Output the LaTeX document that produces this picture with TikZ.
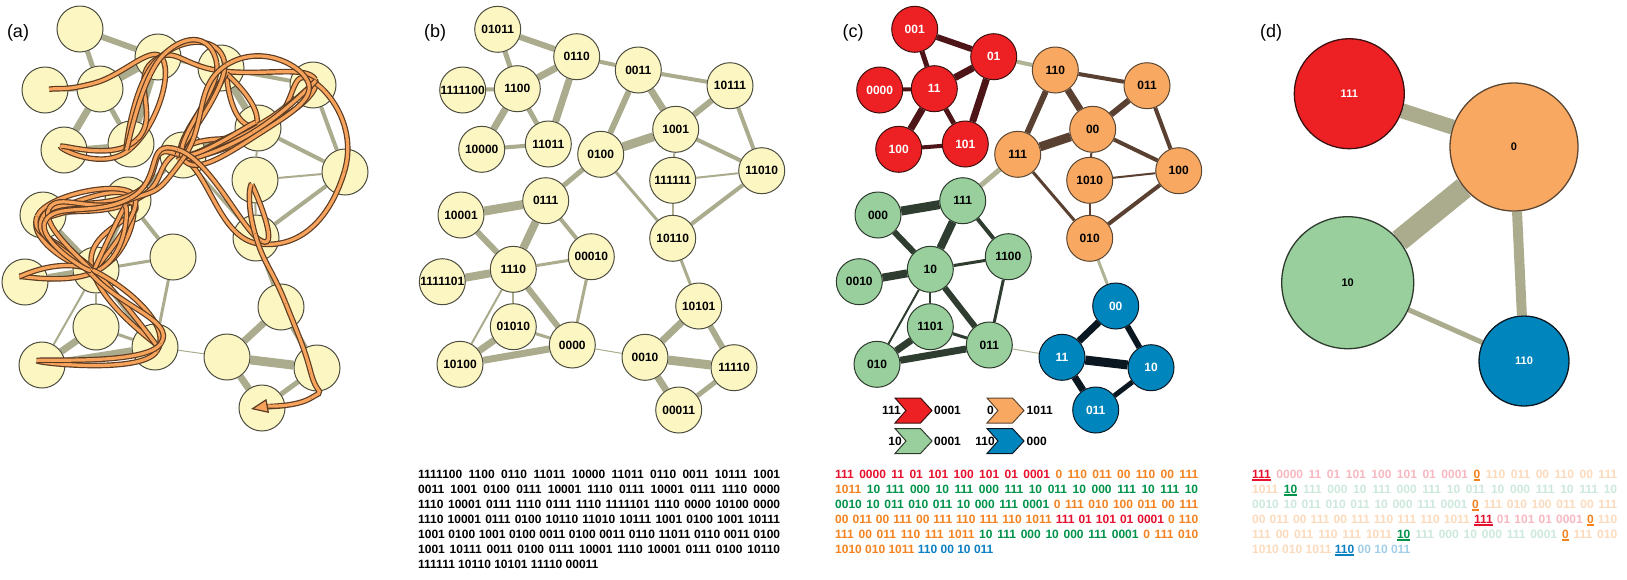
\documentclass[tikz,border=0pt]{standalone}
\usepackage{fontspec}
\setmainfont{Liberation Sans}
\usetikzlibrary{arrows.meta,calc}
\definecolor{yfill}{HTML}{FCF6C2}
\definecolor{ybord}{HTML}{4D4D40}
\definecolor{egrey}{HTML}{ABAB8D}
\definecolor{fillr}{HTML}{ED2024}\definecolor{bordr}{HTML}{3D1010}\definecolor{txtr}{HTML}{FFFFFF}
\definecolor{fillo}{HTML}{F9A861}\definecolor{bordo}{HTML}{5A4632}\definecolor{txto}{HTML}{000000}
\definecolor{fillg}{HTML}{98CF9C}\definecolor{bordg}{HTML}{2D3A2D}\definecolor{txtg}{HTML}{000000}
\definecolor{fillb}{HTML}{0085BD}\definecolor{bordb}{HTML}{0C1821}\definecolor{txtb}{HTML}{FFFFFF}
\definecolor{edger}{HTML}{4D1517}
\definecolor{edgeo}{HTML}{5A4030}
\definecolor{edgeg}{HTML}{2E3D2F}
\definecolor{edgeb}{HTML}{0A1620}
\definecolor{edgex}{HTML}{B0B396}
\definecolor{tr}{HTML}{E8112D}
\definecolor{to}{HTML}{F58220}
\definecolor{tg}{HTML}{00934A}
\definecolor{tb}{HTML}{0A7FC2}
\colorlet{trf}{tr!30}
\colorlet{tof}{to!30}
\colorlet{tgf}{tg!20}
\colorlet{tbf}{tb!38}
\definecolor{walkor}{HTML}{F7A35C}
\definecolor{walkdk}{HTML}{5B3B22}
\newcommand\lf{\bfseries\fontsize{12}{14}\selectfont}
\newcommand\UL[2]{{\color{#1}\setbox0\hbox{#2}\rlap{\rule[-2.6pt]{\wd0}{1.3pt}}\box0}}
\pgfdeclarelayer{bg}
\pgfsetlayers{bg,main}
\def\edgelist{1/2/6/r, 1/6/5/r, 5/6/4/r, 6/2/7/r, 6/7/7/r, 6/8/5/r, 7/8/4/r, 2/8/7/r, 2/3/4/x, 3/4/4/o, 3/9/6/o, 3/10/7/o, 4/10/6/o, 4/12/4/o, 10/9/9/o, 10/12/4/o, 10/11/2/o, 11/12/2/o, 11/15/2/o, 12/15/4/o, 9/14/5/x, 9/15/3/o, 14/13/9/g, 14/17/8/g, 14/18/4/g, 13/17/6/g, 16/17/8/g, 17/18/3/g, 17/19/2/g, 17/20/2/g, 17/21/6/g, 18/21/3/g, 19/20/7/g, 19/21/3/g, 20/21/7/g, 21/23/1/x, 15/22/3/x, 22/23/7/b, 22/24/6/b, 23/24/9/b, 23/25/7/b, 24/25/5/b}
\def\walkseq{5,6,2,8,7,8,2,3,4,10,3,10,9,14,13,17,14,13,14,17,21,17,13,14,17,14,17,16,17,21,20,21,17,13,14,9,15,12,4,10,9,10,4,10,9,10,9,3,9,3,2,8,2,3,9,10,4,3,9,14,13,17,13,14,9,15,11,15,22,24}
\tikzset{
  ynode/.style={circle, minimum size=46pt, inner sep=0pt, draw=ybord, fill=yfill, line width=1pt, font=\lf},
  cnode/.style={circle, minimum size=46pt, inner sep=0pt, draw=bord#1, fill=fill#1, text=txt#1, line width=1pt, font=\lf},
  dnode/.style={circle, inner sep=0pt, draw=bord#1, fill=fill#1, text=txt#1, line width=1.3pt, font=\bfseries\fontsize{11}{13}\selectfont},
  plabel/.style={font=\fontsize{18}{20}\selectfont, inner sep=0pt},
  txtline/.style={anchor=base west, inner sep=0pt, font=\lf},
  legtxt/.style={inner sep=0pt, font=\lf},
  chev/.style={line width=1pt, draw=bord#1, fill=fill#1},
  wu/.style={line width=5.6pt, walkdk, line cap=butt},
  wo/.style={line width=3.2pt, walkor, line cap=butt},
  wuend/.style={line width=5.6pt, walkdk, line cap=butt, shorten >=10pt},
  woend/.style={line width=3.2pt, walkor, line cap=butt, -{Triangle[length=17pt,width=14pt,fill=walkor,color=walkdk,line width=1.2pt]}}
}
\begin{document}
\begin{tikzpicture}[x=1pt,y=-1pt]
\useasboundingbox (0,0) rectangle (1627,579);
\begin{pgfonlayer}{bg}
\fill[white] (0,0) rectangle (1627,579);
\end{pgfonlayer}

% panel labels
\node[plabel] (la) at (18,33) {(a)};
\node[plabel] (lb) at (435,33) {(b)};
\node[plabel] (lc) at (853,33) {(c)};
\node[plabel] (ld) at (1271,33) {(d)};

% ---------------- panel (a)
\foreach \i/\x/\y in {1/80/29, 2/158/57, 3/221/68, 4/313/85, 5/45/90, 6/100/89, 7/64/150, 8/131/144, 9/183/155, 10/258/128, 11/255/180, 12/345/172, 13/43/215, 14/128/200, 15/256/238, 16/25/282, 17/96/270, 18/173/257, 19/96/327, 20/42/365, 21/155/347, 22/281/307, 23/227/357, 24/317/368, 25/262/408}
  \node[ynode] (a\i) at (\x,\y) {};

% ---------------- panel (b)
\foreach \i/\x/\y/\lab in {1/497.7/29.3/01011, 2/576.7/56.7/0110, 3/638.3/70/0011, 4/730/85.7/10111, 5/462.7/90/1111100, 6/517.3/88.7/1100, 7/481.7/149.3/10000, 8/548.3/144/11011, 9/600.7/154.3/0100, 10/675.7/129.3/1001, 11/672.7/180.3/111111, 12/761.7/170.7/11010, 13/461/215/10001, 14/545.7/200.7/0111, 15/672.7/238.3/10110, 16/442.3/281.7/1111101, 17/513.3/269.3/1110, 18/591.3/256.7/00010, 19/513.3/326.7/01010, 20/460/364.3/10100, 21/572.3/345/0000, 22/698.7/306/10101, 23/645/357.3/0010, 24/734/367.7/11110, 25/678.7/410/00011}
  \node[ynode] (b\i) at (\x,\y) {\makebox[0pt]{\lab}};

% ---------------- panel (c)
\foreach \i/\x/\y/\lab/\cl in {1/914.7/29.3/001/r, 2/993.7/56.7/01/r, 3/1055.3/70/110/o, 4/1147/85.7/011/o, 5/879.7/90/0000/r, 6/934.3/88.7/11/r, 7/898.7/149.3/100/r, 8/965.3/144/101/r, 9/1017.7/154.3/111/o, 10/1092.7/129.3/00/o, 11/1089.7/180.3/1010/o, 12/1178.7/170.7/100/o, 13/878/215/000/g, 14/962.7/200.7/111/g, 15/1089.7/238.3/010/o, 16/859.3/281.7/0010/g, 17/930.3/269.3/10/g, 18/1008.3/256.7/1100/g, 19/930.3/326.7/1101/g, 20/877/364.3/010/g, 21/989.3/345/011/g, 22/1115.7/306/00/b, 23/1062/357.3/11/b, 24/1151/367.7/10/b, 25/1095.7/410/011/b}
  \node[cnode=\cl] (c\i) at (\x,\y) {\makebox[0pt]{\lab}};

% ---------------- panel (d)
\node[dnode=r, minimum size=110pt] (dr) at (1349.3,93.7) {111};
\node[dnode=o, minimum size=128pt] (do) at (1514,147) {0};
\node[dnode=g, minimum size=132pt] (dg) at (1347.7,282.7) {10};
\node[dnode=b, minimum size=90pt] (db) at (1524,361) {110};

% ---------------- edges
\begin{pgfonlayer}{bg}
\foreach \u/\v/\w/\t in \edgelist {
  \draw[egrey, line width=\w pt] (a\u) -- (a\v);
  \draw[egrey, line width=\w pt] (b\u) -- (b\v);
  \draw[edge\t, line width=\w pt] (c\u) -- (c\v);
}
\draw[egrey, line width=15pt] (dr) -- (do);
\draw[egrey, line width=22pt] (dg) -- (do);
\draw[egrey, line width=10pt] (do) -- (db);
\draw[egrey, line width=5pt] (dg) -- (db);
\end{pgfonlayer}

% ---------------- walk in (a): one outlined strand per step
\foreach \n [count=\k] in \walkseq {
  \pgfmathsetmacro\dx{6*sin(\k*137.5)}
  \pgfmathsetmacro\dy{6*cos(\k*97.3)}
  \coordinate (w\k) at ([shift={(\dx,\dy)}]a\n.center);
}
\coordinate (w0) at (w1);
\coordinate (w71) at (311,398);
\coordinate (w72) at (251,409);
\coordinate (w73) at (w72);
\foreach \k in {1,...,70} {
  \pgfmathtruncatemacro\km{\k-1}
  \pgfmathtruncatemacro\kp{\k+1}
  \pgfmathtruncatemacro\kpp{\k+2}
  \draw[wu] (w\k) .. controls ($(w\k)+0.26*(w\kp)-0.26*(w\km)$) and ($(w\kp)-0.26*(w\kpp)+0.26*(w\k)$) .. (w\kp);
  \draw[wo] (w\k) .. controls ($(w\k)+0.26*(w\kp)-0.26*(w\km)$) and ($(w\kp)-0.26*(w\kpp)+0.26*(w\k)$) .. (w\kp);
}
\draw[wuend] (w71) .. controls ($(w71)+0.26*(w72)-0.26*(w70)$) and ($(w72)-0.26*(w73)+0.26*(w71)$) .. (w72);
\draw[woend] (w71) .. controls ($(w71)+0.26*(w72)-0.26*(w70)$) and ($(w72)-0.26*(w73)+0.26*(w71)$) .. (w72);

% ---------------- legend in (c)
\draw[chev=r] (895,398) -- (920.5,398) -- (932,410.5) -- (920.5,423) -- (895,423) -- (906,410.5) -- cycle;
\draw[chev=o] (987,398) -- (1012.5,398) -- (1024,410.5) -- (1012.5,423) -- (987,423) -- (998,410.5) -- cycle;
\draw[chev=g] (895,428.5) -- (920.5,428.5) -- (932,441) -- (920.5,453.5) -- (895,453.5) -- (906,441) -- cycle;
\draw[chev=b] (987,428.5) -- (1012.5,428.5) -- (1024,441) -- (1012.5,453.5) -- (987,453.5) -- (998,441) -- cycle;
\node[legtxt, anchor=base east] (l1a) at (901,414.8) {111};
\node[legtxt, anchor=base west] (l1b) at (934,414.8) {0001};
\node[legtxt, anchor=base east] (l2a) at (994,414.8) {0};
\node[legtxt, anchor=base west] (l2b) at (1026.5,414.8) {1011};
\node[legtxt, anchor=base east] (l3a) at (902,445.3) {10};
\node[legtxt, anchor=base west] (l3b) at (934,445.3) {0001};
\node[legtxt, anchor=base east] (l4a) at (995,445.3) {110};
\node[legtxt, anchor=base west] (l4b) at (1026.5,445.3) {000};

% ---------------- text (b)
\node[txtline] (tb1) at (418,478) {\makebox[362pt][s]{1111100 1100 0110 11011 10000 11011 0110 0011 10111 1001}};
\node[txtline] (tb2) at (418,493) {\makebox[362pt][s]{0011 1001 0100 0111 10001 1110 0111 10001 0111 1110 0000}};
\node[txtline] (tb3) at (418,508) {\makebox[362pt][s]{1110 10001 0111 1110 0111 1110 1111101 1110 0000 10100 0000}};
\node[txtline] (tb4) at (418,523) {\makebox[362pt][s]{1110 10001 0111 0100 10110 11010 10111 1001 0100 1001 10111}};
\node[txtline] (tb5) at (418,538) {\makebox[362pt][s]{1001 0100 1001 0100 0011 0100 0011 0110 11011 0110 0011 0100}};
\node[txtline] (tb6) at (418,553) {\makebox[362pt][s]{1001 10111 0011 0100 0111 10001 1110 10001 0111 0100 10110}};
\node[txtline] (tb7) at (418,568) {111111 10110 10101 11110 00011};

% ---------------- text (c)
\node[txtline] (tc1) at (835,478) {\makebox[363pt][s]{\color{tr}111 0000 11 01 101 100 101 01 0001 \color{to}0 110 011 00 110 00 111}};
\node[txtline] (tc2) at (835,493) {\makebox[363pt][s]{\color{to}1011 \color{tg}10 111 000 10 111 000 111 10 011 10 000 111 10 111 10}};
\node[txtline] (tc3) at (835,508) {\makebox[363pt][s]{\color{tg}0010 10 011 010 011 10 000 111 0001 \color{to}0 111 010 100 011 00 111}};
\node[txtline] (tc4) at (835,523) {\makebox[363pt][s]{\color{to}00 011 00 111 00 111 110 111 110 1011 \color{tr}111 01 101 01 0001 \color{to}0 110}};
\node[txtline] (tc5) at (835,538) {\makebox[363pt][s]{\color{to}111 00 011 110 111 1011 \color{tg}10 111 000 10 000 111 0001 \color{to}0 111 010}};
\node[txtline] (tc6) at (835,553) {\color{to}1010 010 1011 \color{tb}110 00 10 011};

% ---------------- text (d)
\node[txtline] (td1) at (1252,478) {\makebox[365pt][s]{\UL{tr}{111} \color{trf}0000 11 01 101 100 101 01 0001 \UL{to}{0} \color{tof}110 011 00 110 00 111}};
\node[txtline] (td2) at (1252,493) {\makebox[365pt][s]{\color{tof}1011 \UL{tg}{10} \color{tgf}111 000 10 111 000 111 10 011 10 000 111 10 111 10}};
\node[txtline] (td3) at (1252,508) {\makebox[365pt][s]{\color{tgf}0010 10 011 010 011 10 000 111 0001 \UL{to}{0} \color{tof}111 010 100 011 00 111}};
\node[txtline] (td4) at (1252,523) {\makebox[365pt][s]{\color{tof}00 011 00 111 00 111 110 111 110 1011 \UL{tr}{111} \color{trf}01 101 01 0001 \UL{to}{0} \color{tof}110}};
\node[txtline] (td5) at (1252,538) {\makebox[365pt][s]{\color{tof}111 00 011 110 111 1011 \UL{tg}{10} \color{tgf}111 000 10 000 111 0001 \UL{to}{0} \color{tof}111 010}};
\node[txtline] (td6) at (1252,553) {\color{tof}1010 010 1011 \UL{tb}{110} \color{tbf}00 10 011};
\end{tikzpicture}
\end{document}
